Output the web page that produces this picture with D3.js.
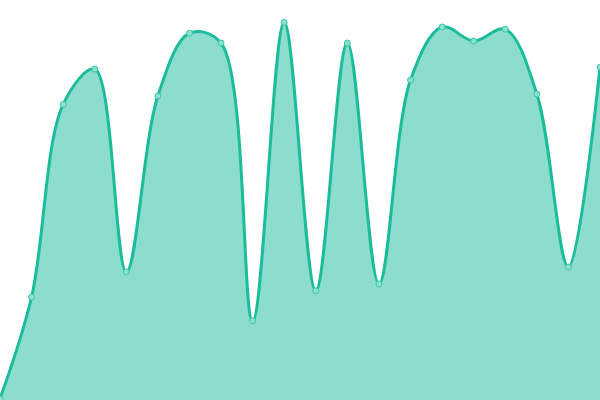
<!DOCTYPE html>
<html><head><meta charset="utf-8">
<script src="https://cdn.jsdelivr.net/npm/d3@7"></script>
<style>html,body{margin:0;padding:0;background:#fff;overflow:hidden}svg{display:block}</style>
</head><body>
<svg id="chart" width="600" height="400"></svg>
<script>
const indices = d3.range(20);
const values = [0.3, 25.75, 73.9, 82.75, 32, 76, 91.7, 89.25, 19.8, 94.4, 27.3, 89.25, 29, 80, 93.25, 89.75, 92.7, 76.5, 33.25, 83.2];

const W = 600, H = 400;
const svg = d3.select("#chart");
const x = d3.scaleLinear().domain([0, values.length - 1]).range([0, W]);
const y = d3.scaleLinear().domain([0, 100]).range([H, 0]);
const data = indices.map(i => ({i, v: values[i]}));

const curve = d3.curveCatmullRom;
const area = d3.area().x(d => x(d.i)).y0(H).y1(d => y(d.v)).curve(curve);
const line = d3.line().x(d => x(d.i)).y(d => y(d.v)).curve(curve);

svg.append("path").datum(data).attr("d", area).attr("fill", "#1abc9c").attr("fill-opacity", 0.5);
svg.append("path").datum(data).attr("d", line).attr("fill", "none").attr("stroke", "#1abc9c").attr("stroke-width", 3);
svg.selectAll("circle").data(data).join("circle")
  .attr("cx", d => x(d.i)).attr("cy", d => y(d.v)).attr("r", 3)
  .attr("fill", "#8ce0cf").attr("stroke", "#3cc9a9").attr("stroke-width", 1);
</script>
</body></html>
